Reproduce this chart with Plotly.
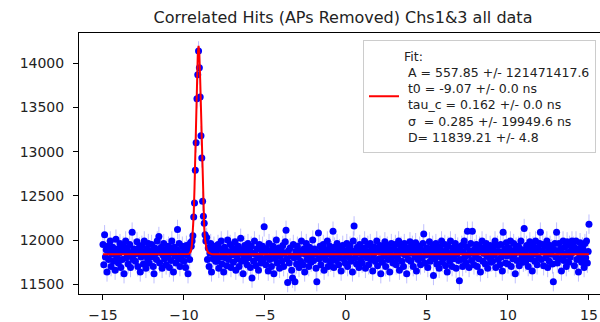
import numpy as np
import plotly.graph_objects as go

# Measured counts per time bin (ns), bins from -15 to 15 in 0.05 ns steps
counts = [
    # -15
    11950, 11720, 12060, 11810, 11890, 11640, 11930, 11780, 11870, 11990, 11700, 11840, 11920, 11760, 11880, 11660, 12010, 11810, 11900, 11740,
    # -14
    11850, 11960, 11690, 11880, 11780, 11930, 11620, 11870, 11990, 11800, 11910, 11730, 11860, 11950, 11690, 11820, 12090, 11780, 11900, 11840,
    # -13
    11760, 11890, 11980, 11700, 11850, 11920, 11640, 11810, 11940, 11870, 11730, 11990, 11830, 11680, 11900, 11790, 11960, 11740, 11880, 11810,
    # -12
    11950, 11830, 11700, 11620, 11910, 11850, 11780, 11990, 11880, 12040, 11740, 11860, 11920, 11680, 11830, 11960, 11790, 11870, 11720, 11900,
    # -11
    11810, 11930, 11690, 11870, 11770, 11990, 11850, 11640, 11920, 11820, 11740, 11890, 12120, 11800, 11960, 11700, 11860, 11780, 11930, 11840,
    # -10
    11760, 11880, 11690, 11940, 11830, 11620, 11900, 11780, 11970, 11930, 11990, 12050, 12260, 12420, 12790, 13100, 13600, 13870, 14140, 13950,
    # -9
    13620, 13180, 12930, 12440, 12270, 12190, 12060, 11990, 12030, 11780, 11910, 11700, 11850, 11960, 11640, 11880, 11790, 11930, 11820, 11760,
    # -8
    11870, 11760, 11950, 11680, 11900, 11810, 11990, 11730, 11850, 11640, 11920, 11800, 11880, 11710, 12000, 11780, 11860, 11950, 11690, 11830,
    # -7
    11910, 11750, 11840, 11980, 11660, 11870, 11790, 11930, 11700, 11850, 12020, 11760, 11890, 11620, 11820, 11940, 11780, 11870, 11720, 11960,
    # -6
    11800, 11890, 11690, 11930, 11570, 11850, 11760, 11990, 11840, 11710, 11900, 11800, 11660, 11950, 11820, 11740, 11880, 11930, 11780, 12150,
    # -5
    11860, 11720, 11900, 11810, 11650, 11960, 11780, 11880, 11700, 11840, 11930, 11620, 11870, 11790, 12000, 11740, 11850, 11910, 11680, 11820,
    # -4
    11890, 11760, 11940, 11700, 11850, 11980, 12110, 11790, 11520, 11880, 11740, 11910, 11820, 11660, 11570, 11950, 11800, 11530, 11870, 11730,
    # -3
    11930, 11810, 11690, 11880, 11760, 11990, 11850, 11720, 11900, 11640, 11840, 11960, 11780, 11870, 11700, 11920, 11810, 11750, 11880, 12000,
    # -2
    11770, 11900, 11840, 11680, 11530, 11860, 12080, 11790, 11930, 11720, 11870, 11810, 11950, 11660, 11890, 11780, 11840, 11990, 11700, 11860,
    # -1
    11930, 11750, 11880, 11810, 12100, 11690, 11920, 11840, 11770, 11960, 11860, 11720, 11900, 11800, 11650, 11870, 11940, 11790, 11880, 11740,
    # 0
    11850, 11960, 11700, 11890, 11810, 11930, 11760, 11880, 11640, 11990, 12160, 11800, 11870, 11730, 11920, 11850, 11690, 11950, 11780, 11860,
    # 1
    11740, 11910, 11830, 11990, 11680, 11870, 11800, 11940, 11720, 11860, 11960, 11780, 11890, 11650, 11830, 11920, 11760, 11870, 11990, 11710,
    # 2
    11880, 11790, 11940, 11620, 11860, 11750, 11910, 11820, 11980, 11700, 11850, 11930, 11780, 11890, 11640, 11870, 11960, 11810, 11740, 11900,
    # 3
    11820, 11950, 11720, 11880, 11790, 11990, 11660, 11850, 11930, 11760, 11870, 11700, 11960, 11830, 11890, 11620, 11910, 11780, 11850, 11980,
    # 4
    11760, 11880, 11940, 11700, 11860, 11810, 11970, 11650, 11900, 11780, 11850, 11930, 11720, 11890, 11800, 11960, 12070, 11740, 11870, 11830,
    # 5
    11910, 11690, 11850, 11980, 11760, 11880, 11820, 11940, 11600, 11870, 11790, 11960, 11730, 11900, 11840, 11680, 11920, 11810, 11990, 11750,
    # 6
    11870, 11800, 11950, 11710, 11880, 11640, 11930, 11820, 11760, 11990, 11850, 11700, 11910, 11790, 11870, 11960, 11680, 11840, 11920, 11770,
    # 7
    11540, 11890, 11780, 11940, 11700, 11860, 11990, 11810, 11740, 11920, 12100, 11830, 11690, 11880, 11960, 11770, 12100, 11850, 11720, 11900,
    # 8
    11810, 11950, 11700, 11870, 11790, 11930, 11640, 11880, 11990, 11760, 11850, 11910, 11730, 11960, 11820, 11680, 11890, 11800, 11940, 11750,
    # 9
    11880, 11760, 11920, 11830, 11990, 11690, 11860, 11940, 11780, 11870, 11720, 11950, 11810, 11650, 12090, 11850, 11900, 11740, 11970, 11820,
    # 10
    11730, 11910, 11850, 11990, 11700, 11880, 11790, 11960, 11840, 11620, 11920, 11770, 11870, 11930, 11710, 11860, 11990, 11800, 11890, 11750,
    # 11
    12130, 11850, 11760, 11940, 11820, 11700, 11900, 11980, 11790, 11870, 11650, 11930, 11840, 11760, 11990, 11880, 11720, 11910, 11800, 11960,
    # 12
    12090, 11780, 11880, 11950, 11710, 11860, 11930, 11800, 11990, 11690, 11870, 11760, 11940, 11840, 11900, 11730, 11530, 11890, 11960, 11810,
    # 13
    12090, 11740, 11880, 11960, 11790, 11900, 11650, 11850, 11990, 11770, 11920, 11830, 11700, 11980, 11860, 11750, 11940, 11810, 11880, 11990,
    # 14
    11860, 11930, 11710, 11880, 11990, 11780, 11900, 11640, 11850, 11970, 11820, 11750, 11920, 11880, 11690, 11960, 11800, 11990, 11740, 11870,
    # 15
    12180,
]
assert len(counts) == 601, len(counts)
t_min, t_max = -15.0, 15.0
times = np.round(np.linspace(t_min, t_max, len(counts)), 3)
count_err = 110  # Poisson error ~ sqrt(D)

# Fit curve as drawn (time, counts)
fit_t = [-15, -9.8, -9.7, -9.6, -9.55, -9.5, -9.45, -9.4, -9.35, -9.3, -9.25, -9.2, -9.15,
         -9.1, -9.05, -9.0, -8.95, -8.9, -8.85, -8.8, -8.75, -8.7, -8.65, -8.6, -8.5,
         -8.4, -8.3, -8.2, 15]
fit_y = [11839, 11839, 11842, 11863, 11896, 11964, 12088, 12292, 12589, 12972, 13401, 13804, 14093,
         14199, 14099, 13819, 13429, 13009, 12629, 12339, 12139, 12009, 11939, 11894, 11857,
         11845, 11841, 11839, 11839]

fit_label = ("Fit:<br>\u00a0A = 557.85 +/- 121471417.6<br>\u00a0t0 = -9.07 +/- 0.0 ns"
             "<br>\u00a0tau_c = 0.162 +/- 0.0 ns<br>\u00a0\u03c3 \u00a0= 0.285 +/- 19949.6 ns"
             "<br>\u00a0D= 11839.21 +/- 4.8")

x_ticks = [-15, -10, -5, 0, 5, 10, 15]
y_ticks = [11500, 12000, 12500, 13000, 13500, 14000]

fig = go.Figure()
fig.add_trace(go.Scatter(
    x=times, y=counts, mode="markers", showlegend=False,
    marker=dict(color="blue", size=7, line=dict(width=0)),
    error_y=dict(type="data", array=[count_err] * len(counts), visible=True,
                 color="rgba(0,0,255,0.25)", thickness=1, width=0),
))
fig.add_trace(go.Scatter(
    x=fit_t, y=fit_y, mode="lines", name=fit_label,
    line=dict(color="red", width=2),
))

font = "DejaVu Sans, Verdana, sans-serif"
fig.update_layout(
    width=600, height=322,
    margin=dict(l=79, r=0, t=33, b=28, autoexpand=False),
    paper_bgcolor="white", plot_bgcolor="white",
    font=dict(family=font, size=14, color="#222"),
    title=dict(text="Correlated Hits (APs Removed) Chs1&3 all data",
               x=343 / 600, xanchor="center", y=1 - 17 / 322, yanchor="middle",
               font=dict(size=16, family=font, color="#222")),
    legend=dict(xref="container", yref="container",
                x=363 / 600, xanchor="left", y=1 - 40 / 322, yanchor="top",
                bgcolor="rgba(255,255,255,0.8)", bordercolor="#cccccc", borderwidth=1,
                font=dict(size=12.5, family=font, color="#222"), valign="middle"),
    xaxis=dict(range=[-16.48, -16.48 + 521 / 16.2], tickvals=x_ticks,
               showline=True, linecolor="black", linewidth=1, mirror=True,
               ticks="outside", ticklen=5, tickcolor="black",
               showgrid=False, zeroline=False, ticklabelstandoff=3),
    yaxis=dict(range=[11390, 14343], tickvals=y_ticks, tickformat="d",
               showline=True, linecolor="black", linewidth=1, mirror=False,
               ticks="outside", ticklen=5, tickcolor="black",
               showgrid=False, zeroline=False, ticklabelstandoff=6),
)

fig.write_html("out.html")
